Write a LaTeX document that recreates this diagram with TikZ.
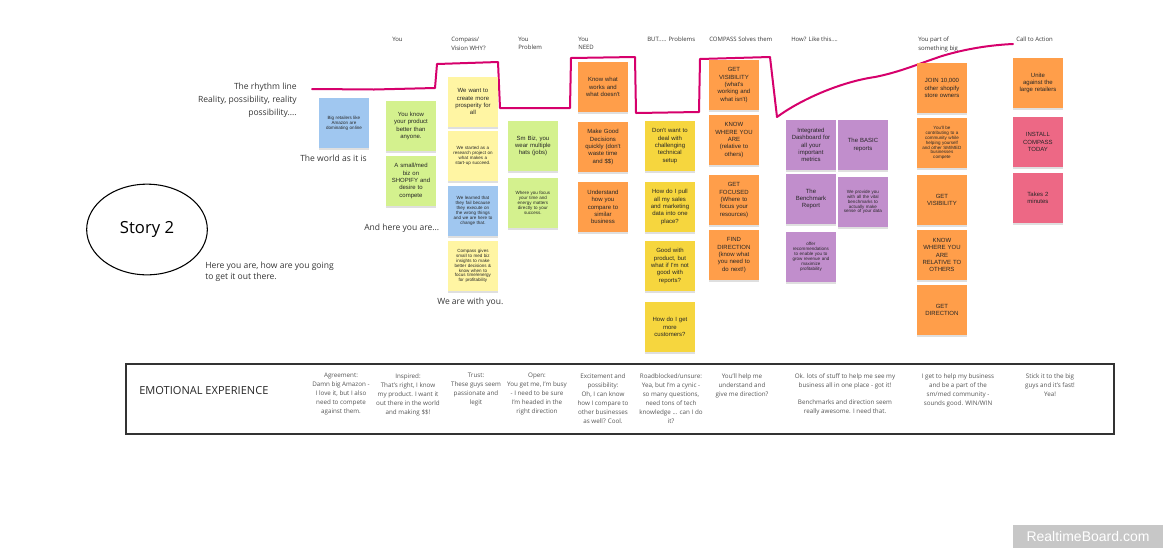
\documentclass[tikz,border=0pt]{standalone}
\usepackage{fontspec}
\setmainfont{Open Sans}
\newfontfamily\notesans{Liberation Sans}
\usetikzlibrary{shapes.geometric,shadows}
\definecolor{rhythmcolor}{RGB}{214,0,108}
\definecolor{noteblue}{RGB}{160,199,240}
\definecolor{notegreen}{RGB}{212,241,142}
\definecolor{notecream}{RGB}{255,245,163}
\definecolor{notegold}{RGB}{246,214,62}
\definecolor{noteorange}{RGB}{255,158,74}
\definecolor{notepurple}{RGB}{193,142,204}
\definecolor{notepink}{RGB}{237,104,133}
\definecolor{labelgray}{RGB}{55,55,55}
\definecolor{emogray}{RGB}{85,85,85}
\newcommand{\notefont}{\notesans\fontsize{4.5pt}{5.5pt}\selectfont}
\newcommand{\smallnotefont}{\notesans\fontsize{3.4pt}{3.7pt}\selectfont}
\newcommand{\headfont}{\fontsize{4.5pt}{6.3pt}\selectfont}
\newcommand{\labelfont}{\fontsize{6.4pt}{9.5pt}\selectfont}
\newcommand{\emofont}{\fontsize{4.7pt}{6.75pt}\selectfont}

\begin{document}
\begin{tikzpicture}[x=0.75pt, y=-0.75pt,
  sticky/.style={anchor=north west, minimum width=37pt, minimum height=37pt,
    inner sep=0pt, text width=34pt, align=center, font=\notefont, text=black!85,
    drop shadow={shadow xshift=0pt, shadow yshift=-2pt, opacity=0.25}},
  tinytext/.style={font=\smallnotefont},
  header/.style={anchor=north west, align=left, inner sep=0pt, font=\headfont, text=labelgray},
  sidelabel/.style={inner sep=0pt, font=\labelfont, text=labelgray},
  emotext/.style={anchor=north, align=center, inner sep=0pt, font=\emofont, text=emogray},
  rhythm/.style={draw=rhythmcolor, line width=1.5pt, line join=round, line cap=round}]

  \useasboundingbox[fill=white] (0,0) rectangle (1172,558);

  \node[header] (you) at (392,37) {You};
  \node[header] (vision) at (451,37) {Compass/\\Vision WHY?};
  \node[header] (problem) at (518,37) {You\\Problem};
  \node[header] (need) at (578,37) {You\\NEED};
  \node[header] (butprob) at (647,37) {BUT..... Problems};
  \node[header] (solves) at (709,37) {COMPASS Solves them};
  \node[header] (howlike) at (791,37) {How? Like this....};
  \node[header] (partof) at (918,37) {You part of\\something big};
  \node[header] (action) at (1016,37) {Call to Action};

  \node[sidelabel, anchor=north east, align=right] (rhythmlbl) at (297,83)
       {The rhythm line\\Reality, possibility, reality\\possibility....};
  \node[sidelabel, anchor=west] (world) at (300,158) {The world as it is};
  \node[sidelabel, anchor=west] (hereyou) at (364,228) {And here you are...};
  \node[sidelabel, anchor=north west, align=left, font=\fontsize{6.4pt}{8.3pt}\selectfont] (getout) at (205,262)
       {Here you are, how are you going\\to get it out there.};
  \node[sidelabel, anchor=west] (withyou) at (437,302) {We are with you.};

  \node[draw, ellipse, line width=0.8pt, minimum width=90.5pt, minimum height=68pt,
        font=\fontsize{12.5pt}{14pt}\selectfont] (story) at (147,229.5) {Story 2};

  \draw[rhythm] (312,89) -- (374,89.5) -- (435,88) -- (437,64) -- (498,62) -- (500,108)
    -- (570,108) -- (571,58) -- (635,57) -- (636,113) -- (699,112) -- (700,59) -- (770,57)
    -- (777,117) .. controls (800,100) and (840,82) .. (875,77)
    .. controls (900,72) and (918,64) .. (942,56)
    .. controls (965,49) and (990,45) .. (1013,44);

  \node[sticky, tinytext, fill=noteblue] (amazon) at (319,98)
       {Big retailers like\\Amazon are\\dominating online};
  \node[sticky, fill=notegreen] (knowproduct) at (386,101)
       {You know\\your product\\better than\\anyone.};
  \node[sticky, fill=notegreen] (smallbiz) at (386,156)
       {A small/med\\biz on\\SHOPIFY and\\desire to\\compete};

  \node[sticky, fill=notecream] (prosperity) at (448,77)
       {We want to\\create more\\prosperity for\\all};
  \node[sticky, tinytext, fill=notecream] (research) at (448,131)
       {We started as a\\research project on\\what makes a\\start-up succeed.};
  \node[sticky, tinytext, fill=noteblue] (learned) at (448,186)
       {We learned that\\they fail because\\they execute on\\the wrong things\\and we are here to\\change that.};
  \node[sticky, tinytext, fill=notecream] (compassgives) at (448,241)
       {Compass gives\\small to med biz\\insights to make\\better decisions \&\\know when to\\focus time/energy\\for profitability};

  \node[sticky, fill=notegreen] (hats) at (508,121)
       {Sm Biz, you\\wear multiple\\hats (jobs)};
  \node[sticky, tinytext, fill=notegreen] (focus) at (508,178)
       {Where you focus\\your time and\\energy matters\\directly to your\\success.};

  \node[sticky, fill=noteorange] (knowworks) at (578,62)
       {Know what\\works and\\what doesn't};
  \node[sticky, fill=noteorange] (decisions) at (578,122)
       {Make Good\\Decisions\\quickly (don't\\waste time\\and \$\$)};
  \node[sticky, fill=noteorange] (compare) at (578,182)
       {Understand\\how you\\compare to\\similar\\business};

  \node[sticky, fill=notegold] (techsetup) at (645,121)
       {Don't want to\\deal with\\challenging\\technical\\setup};
  \node[sticky, fill=notegold] (pulldata) at (645,182)
       {How do I pull\\all my sales\\and marketing\\data into one\\place?};
  \node[sticky, fill=notegold] (reports) at (645,241)
       {Good with\\product, but\\what if I'm not\\good with\\reports?};
  \node[sticky, fill=notegold] (customers) at (645,302)
       {How do I get\\more\\customers?};

  \node[sticky, fill=noteorange] (getvis) at (709,60)
       {GET\\VISIBILITY\\(what's\\working and\\what isn't)};
  \node[sticky, fill=noteorange] (knowwhere) at (709,115)
       {KNOW\\WHERE YOU\\ARE\\(relative to\\others)};
  \node[sticky, fill=noteorange] (getfocused) at (709,175)
       {GET\\FOCUSED\\(Where to\\focus your\\resources)};
  \node[sticky, fill=noteorange] (finddir) at (709,230)
       {FIND\\DIRECTION\\(know what\\you need to\\do next!)};

  \node[sticky, fill=notepurple] (dashboard) at (786,120)
       {Integrated\\Dashboard for\\all your\\important\\metrics};
  \node[sticky, fill=notepurple] (basic) at (838,120)
       {The BASIC\\reports};
  \node[sticky, fill=notepurple] (benchmark) at (786,174)
       {The\\Benchmark\\Report};
  \node[sticky, tinytext, fill=notepurple] (vital) at (838,177)
       {We provide you\\with all the vital\\benchmarks to\\actually make\\sense of your data};
  \node[sticky, tinytext, fill=notepurple] (recommend) at (786,232)
       {offer\\recommendations\\to enable you to\\grow revenue and\\maximize\\profitability};

  \node[sticky, fill=noteorange] (join) at (917,63)
       {JOIN 10,000\\other shopify\\store owners};
  \node[sticky, tinytext, fill=noteorange] (community) at (917,118)
       {You'll be\\contributing to a\\community while\\helping yourself\\and other SM/MED\\businesses\\compete};
  \node[sticky, fill=noteorange] (getvistwo) at (917,175)
       {GET\\VISIBILITY};
  \node[sticky, fill=noteorange] (knowwheretwo) at (917,230)
       {KNOW\\WHERE YOU\\ARE\\RELATIVE TO\\OTHERS};
  \node[sticky, fill=noteorange] (getdir) at (917,285)
       {GET\\DIRECTION};

  \node[sticky, fill=noteorange] (unite) at (1013,58)
       {Unite\\against the\\large retailers};
  \node[sticky, fill=notepink] (install) at (1013,117)
       {INSTALL\\COMPASS\\TODAY};
  \node[sticky, fill=notepink] (takes) at (1013,173)
       {Takes 2\\minutes};

  \draw[draw=black!80, line width=1.3pt] (126,364) rectangle (1114,434);
  \node[anchor=west, inner sep=0pt, font=\fontsize{8.3pt}{10pt}\selectfont, text=black!85] (emotitle) at (139,391)
       {EMOTIONAL EXPERIENCE};
  \node[emotext] (agreement) at (341,373)
       {Agreement:\\Damn big Amazon -\\I love it, but I also\\need to compete\\against them.};
  \node[emotext] (inspired) at (408,373)
       {Inspired:\\That's right, I know\\my product. I want it\\out there in the world\\and making \$\$!};
  \node[emotext] (trust) at (476,373)
       {Trust:\\These guys seem\\passionate and\\legit};
  \node[emotext] (open) at (537,373)
       {Open:\\You get me, I'm busy\\- I need to be sure\\I'm headed in the\\right direction};
  \node[emotext] (excitement) at (603,373)
       {Excitement and\\possibility:\\Oh, I can know\\how I compare to\\other businesses\\as well? Cool.};
  \node[emotext] (roadblocked) at (671,373)
       {Roadblocked/unsure:\\Yea, but I'm a cynic -\\so many questions,\\need tons of tech\\knowledge ... can I do\\it?};
  \node[emotext] (helpme) at (742,373)
       {You'll help me\\understand and\\give me direction?};
  \node[emotext] (okstuff) at (845,373)
       {Ok. lots of stuff to help me see my\\business all in one place - got it!\\[6pt]Benchmarks and direction seem\\really awesome. I need that.};
  \node[emotext] (winwin) at (958,373)
       {I get to help my business\\and be a part of the\\sm/med community -\\sounds good. WIN/WIN};
  \node[emotext] (stickit) at (1050,373)
       {Stick it to the big\\guys and it's fast!\\Yea!};

  \node[fill=black!22, text=white, minimum width=112.5pt, minimum height=17.25pt, inner sep=0pt,
        font=\notesans\fontsize{10.5pt}{12pt}\selectfont] (watermark) at (1088,536.5) {RealtimeBoard.com};
\end{tikzpicture}
\end{document}
